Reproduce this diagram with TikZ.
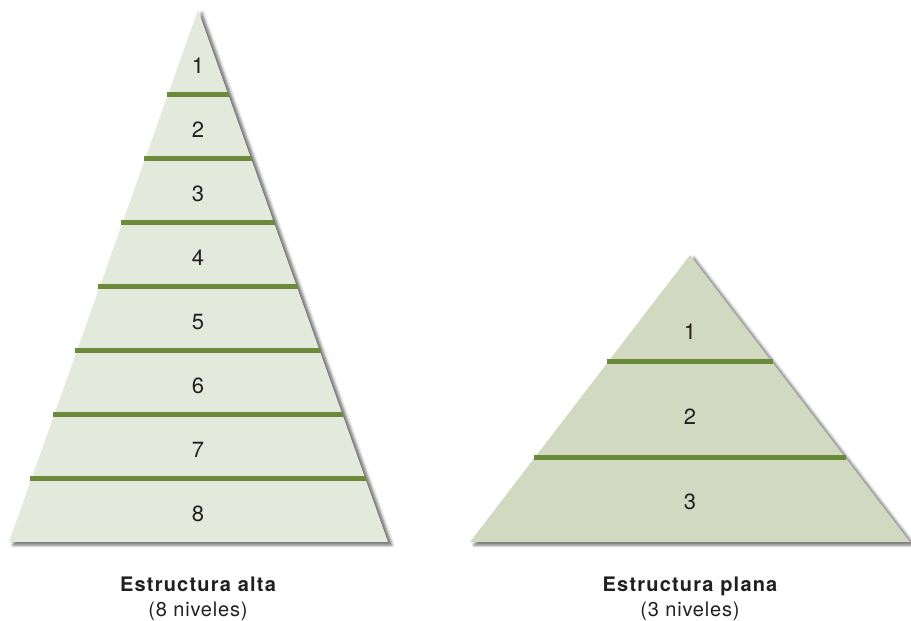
\documentclass[tikz,border=0pt]{standalone}
\usepackage{fontspec}
\setmainfont{TeX Gyre Heros}
\newfontfamily\capfont[LetterSpace=6]{TeX Gyre Heros}
\newfontfamily\subfont[LetterSpace=4]{TeX Gyre Heros}
\usepackage{xcolor}
\usetikzlibrary{shadows.blur}

\definecolor{altafill}{HTML}{E3E9DB}
\definecolor{planafill}{HTML}{D1D9C1}
\definecolor{levelgreen}{HTML}{6C8A3B}
\definecolor{ink}{HTML}{231F20}

\begin{document}
\begin{tikzpicture}[
  x=1pt, y=-1pt,
  pyramid/.style={blur shadow={shadow xshift=4pt, shadow yshift=-3pt,
                  shadow blur radius=3pt, shadow opacity=60}},
  divider/.style={draw=levelgreen, line width=5pt},
  levelnum/.style={anchor=base, text=ink, font=\fontsize{22}{24}\selectfont},
  captitle/.style={anchor=base, text=ink, font=\capfont\bfseries\fontsize{20}{20}\selectfont},
  capsub/.style={anchor=base, text=ink, font=\subfont\fontsize{20}{20}\selectfont}
]
  \useasboundingbox (0,0) rectangle (911,621);

  % tall structure, 8 levels
  \coordinate (altatop) at (198,10);
  \coordinate (altaleft) at (9,542);
  \coordinate (altaright) at (388,542);
  \fill[pyramid, altafill] (altatop) -- (altaright) -- (altaleft) -- cycle;
  \foreach \y in {94,158,...,478} {
    \pgfmathsetmacro\hw{(\y-10)/532*189.5+1.5}
    \draw[divider] ({198-\hw},\y) -- ({198+\hw},\y);
  }
  \foreach \i in {1,...,8}
    \node[levelnum] (alta\i) at (198,{9.5+64*\i}) {\i};
  \node[captitle] (altatitle) at (198,591) {Estructura alta};
  \node[capsub] (altasub) at (198,616.5) {(8 niveles)};

  % flat structure, 3 levels
  \coordinate (planatop) at (690,255);
  \coordinate (planaleft) at (470,542);
  \coordinate (planaright) at (910,542);
  \fill[pyramid, planafill] (planatop) -- (planaright) -- (planaleft) -- cycle;
  \foreach \y in {361,457} {
    \pgfmathsetmacro\hw{(\y-255)/287*220+1.5}
    \draw[divider] ({690-\hw},\y) -- ({690+\hw},\y);
  }
  \foreach \i/\y in {1/339.5,2/424.5,3/509.5}
    \node[levelnum] (plana\i) at (690,\y) {\i};
  \node[captitle] (planatitle) at (690,591) {Estructura plana};
  \node[capsub] (planasub) at (690,616.5) {(3 niveles)};
\end{tikzpicture}
\end{document}
